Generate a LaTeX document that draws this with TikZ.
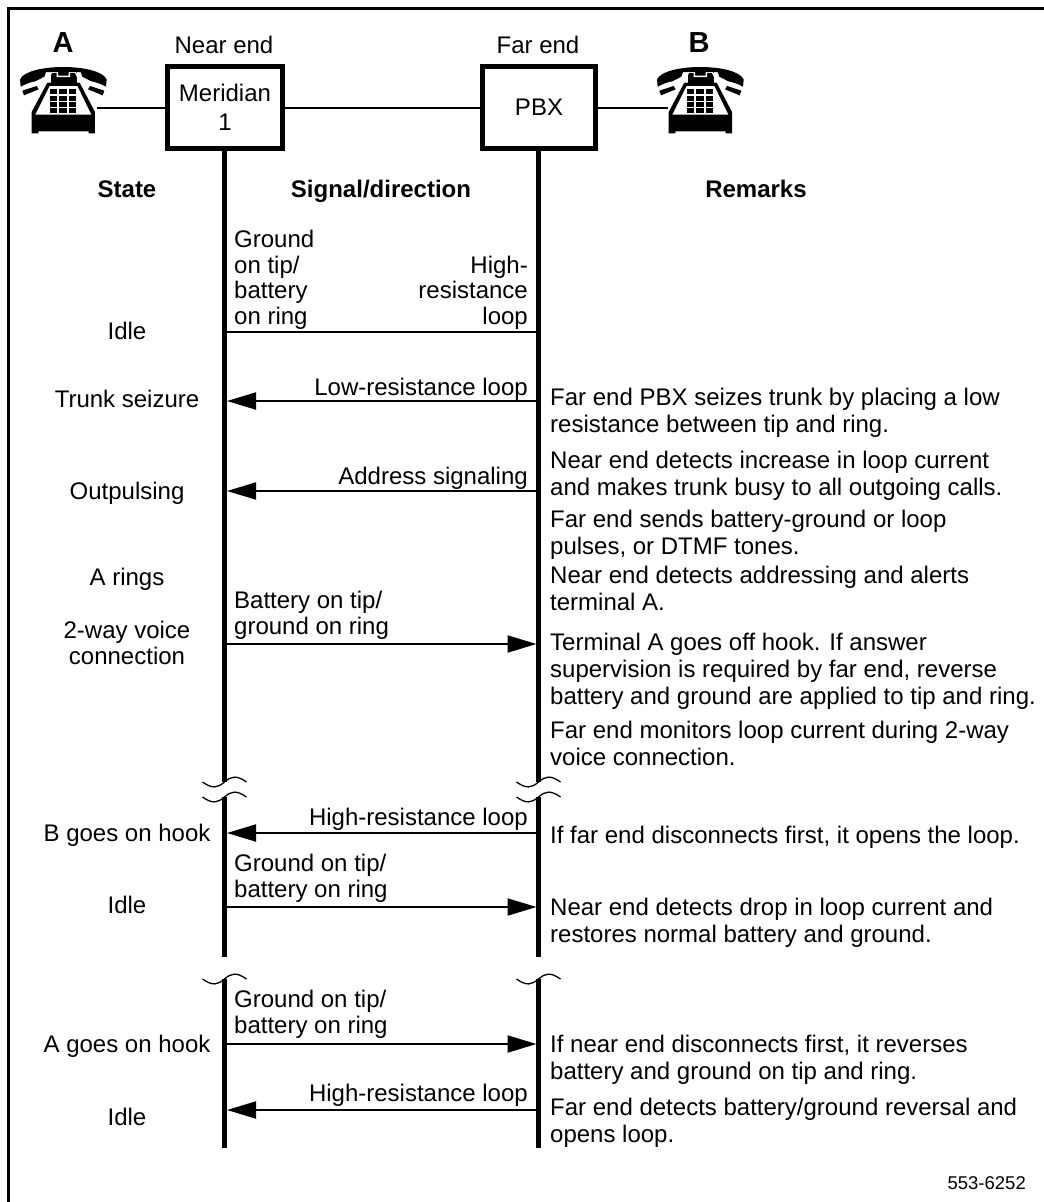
\documentclass[tikz,border=0pt]{standalone}
\usepackage{fontspec}
\setmainfont{Liberation Sans}
\usetikzlibrary{arrows.meta}
\newcommand{\txtfont}{\fontsize{24}{25.5}\selectfont}
\newcommand{\remfont}{\fontsize{24}{27}\selectfont}
\tikzset{
  txt/.style={inner sep=0pt, font=\txtfont},
  statelbl/.style={txt, anchor=base, align=center},
  sigleft/.style={txt, anchor=base west, align=left},
  sigright/.style={txt, anchor=base east, align=right},
  remark/.style={txt, anchor=base west, align=left, font=\remfont},
  head/.style={txt, anchor=base, font=\txtfont\bfseries},
  endbox/.style={draw, line width=5pt, inner sep=0pt, align=center, font=\remfont},
  lifeline/.style={line width=5pt},
  wire/.style={line width=2pt},
  sig/.style={line width=2pt, -{Triangle[length=29pt,width=17pt]}},
  pics/brk/.style={code={
    \draw[line width=1.3pt] (-22,0) .. controls (-12,7) and (-7,6) .. (0,0)
         .. controls (7,-6) and (12,-7) .. (22,0);
  }},
  pics/phone/.style={code={
    \begin{scope}[scale=1/3]
    % the body
    \fill (100,62) -- (197,62) -- (243,150) -- (243,214) -- (224,214) -- (224,208)
       -- (73,208) -- (73,214) -- (53,214) -- (53,150) -- cycle;
    \fill[white] (107,72) -- (190,72) -- (232,158) -- (64,158) -- cycle;
    \fill (110,30) rectangle (190,65);
    \draw[white, line width=1.5pt] (98,62) -- (113,30) -- (130,30) -- (130,43)
       -- (166,43) -- (166,30) -- (184,30) -- (199,62);
    % the handset
    \fill (18,52) .. controls (30,27) and (90,15) .. (148,15)
       .. controls (206,15) and (266,27) .. (278,52) -- (276,74)
       .. controls (262,66) and (245,60) .. (232,58) -- (205,44) -- (200,30)
       -- (96,30) -- (91,44) -- (64,58) .. controls (50,60) and (35,66) .. (20,74) -- cycle;
    \fill (25,86) -- (68,72) -- (74,82) -- (30,100) -- cycle;
    \fill (271,86) -- (228,72) -- (222,82) -- (266,100) -- cycle;
    % the keys
    \foreach \kx in {108,136,164}
      \foreach \ky in {82,101,120,139}
        \fill (\kx,\ky) rectangle ++(22,15);
    \end{scope}
  }}
}
\begin{document}
\begin{tikzpicture}[x=1pt,y=-1pt]
\useasboundingbox (0,0) rectangle (1044,1202);
\draw[line width=3pt] (1044,8.5) -- (8.5,8.5) -- (8.5,1202);

\node[endbox, minimum width=115pt, minimum height=82pt] (meridian) at (225,107.5) {Meridian\\[2pt]1};
\node[endbox, minimum width=113pt, minimum height=82pt] (pbx) at (539,107.5) {PBX};
\node[txt, anchor=base] (nearlbl) at (224,53) {Near end};
\node[txt, anchor=base] (farlbl) at (538,53) {Far end};
\node[head, font=\fontsize{29}{30}\selectfont\bfseries] (termA) at (63,52) {A};
\node[head, font=\fontsize{29}{30}\selectfont\bfseries] (termB) at (699,52) {B};

\coordinate (phoneA) at (97,107.5);
\coordinate (phoneB) at (668,107.5);
\draw[wire] (phoneA) -- (meridian);
\draw[wire] (meridian) -- (pbx);
\draw[wire] (pbx) -- (phoneB);
\pic at (14,62) {phone};
\pic at (651,62) {phone};

% the two lines
\foreach \lname/\lx in {near/224.5,far/538.5}
{
  \coordinate (\lname a) at (\lx,782);
  \coordinate (\lname b) at (\lx,797);
  \coordinate (\lname c) at (\lx,957);
  \coordinate (\lname d) at (\lx,979);
  \coordinate (\lname e) at (\lx,1148);
  \draw[lifeline] (\lname b) -- (\lname c);
  \draw[lifeline] (\lname d) -- (\lname e);
  \pic at (\lname a) {brk};
  \pic at (\lname b) {brk};
  \pic at (\lname d) {brk};
}
\draw[lifeline] (meridian.south -| neara) -- (neara);
\draw[lifeline] (pbx.south -| fara) -- (fara);

\foreach \sname/\sy in {idle/332,low/401,addr/491,batt/644,high/833,grnd/907,grndb/1044,highb/1110}
{
  \coordinate (n\sname) at (227,\sy);
  \coordinate (f\sname) at (536.5,\sy);
}
\draw[wire] (nidle) -- (fidle);
\foreach \sfrom/\sto in {flow/nlow,faddr/naddr,nbatt/fbatt,fhigh/nhigh,ngrnd/fgrnd,ngrndb/fgrndb,fhighb/nhighb}
  \draw[sig] (\sfrom) -- (\sto);

% the headings
\node[head] (hstate) at (127,197) {State};
\node[head] (hsignal) at (381,197) {Signal/direction};
\node[head] (hremarks) at (756,197) {Remarks};

% state column
\foreach \stname/\sty/\sttext in {a/339/Idle,b/407/Trunk seizure,c/499/Outpulsing,d/585/A rings,
    e/664/{2-way voice\\connection},f/841/B goes on hook,g/913/Idle,h/1052/A goes on hook,i/1125/Idle}
  \node[statelbl] (st\stname) at (127,\sty) {\sttext};

% signal labels
\foreach \siname/\siy/\sitext in {a/324/{Ground\\on tip/\\battery\\on ring},
    b/634/{Battery on tip/\\ground on ring},c/897/{Ground on tip/\\battery on ring},
    d/1033/{Ground on tip/\\battery on ring}}
  \node[sigleft] (sl\siname) at (234,\siy) {\sitext};
\foreach \siname/\siy/\sitext in {a/324/{High-\\resistance\\loop},b/395/Low-resistance loop,
    c/484/Address signaling,d/825/High-resistance loop,e/1101/High-resistance loop}
  \node[sigright] (sr\siname) at (528,\siy) {\sitext};

% remarks
\foreach \rname/\ry/\rtext in {
    a/432/{Far end PBX seizes trunk by placing a low\\resistance between tip and ring.},
    b/495/{Near end detects increase in loop current\\and makes trunk busy to all outgoing calls.},
    c/554/{Far end sends battery-ground or loop\\pulses, or DTMF tones.},
    d/610/{Near end detects addressing and alerts\\terminal A.},
    e/704/{Terminal A goes off hook. If answer\\supervision is required by far end, reverse\\battery and ground are applied to tip and ring.},
    f/765/{Far end monitors loop current during 2-way\\voice connection.},
    g/843/{If far end disconnects first, it opens the loop.},
    h/942/{Near end detects drop in loop current and\\restores normal battery and ground.},
    i/1079/{If near end disconnects first, it reverses\\battery and ground on tip and ring.},
    j/1142/{Far end detects battery/ground reversal and\\opens loop.}}
  \node[remark] (rem\rname) at (550,\ry) {\rtext};

\node[txt, anchor=base east, font=\fontsize{18.5}{20}\selectfont] (figno) at (1026,1189) {553-6252};
\end{tikzpicture}
\end{document}
